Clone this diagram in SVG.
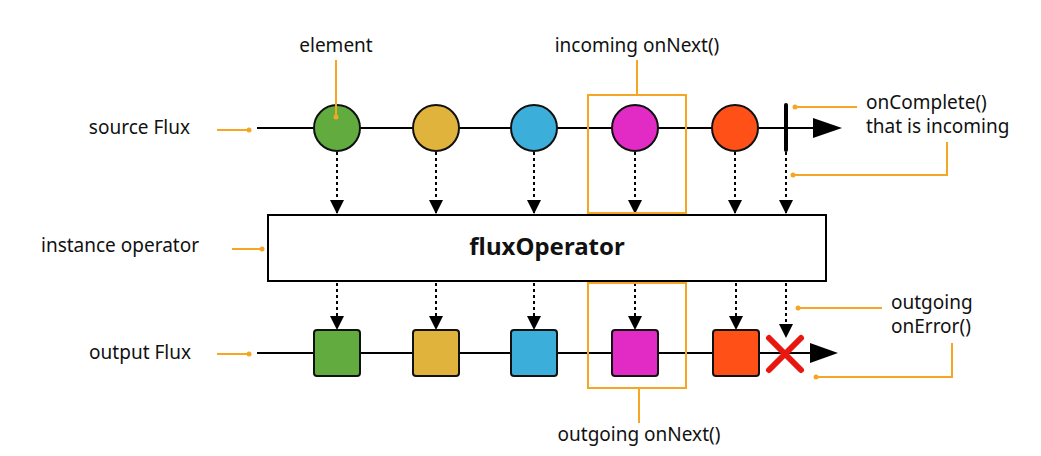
<svg xmlns="http://www.w3.org/2000/svg" width="1041" height="456" viewBox="0 0 1041 456">
<style>
.t{font-family:"Noto Sans","Liberation Sans",sans-serif;font-size:19px;fill:#111}
.line{stroke:#000;stroke-width:2;fill:none}
.dash{stroke:#000;stroke-width:2;stroke-dasharray:3 3;fill:none}
.ann{stroke:#F5A623;stroke-width:2;fill:none}
.dot{fill:#F5A623}
.el{stroke:#111;stroke-width:2}
</style>
<defs>
<marker id="ah" markerWidth="14" markerHeight="16" refX="13" refY="8" orient="auto" markerUnits="userSpaceOnUse">
<path d="M0,1 L14,8 L0,15 Z" fill="#000"/>
</marker>
</defs>
<rect width="1041" height="456" fill="#fff"/>

<g id="timelines">
<line class="line" x1="257" y1="128" x2="815" y2="128"/>
<path d="M813,118 L842,128 L813,138 Z" fill="#000"/>
<line class="line" x1="257" y1="353" x2="812" y2="353"/>
<path d="M810,343 L838,353 L810,363 Z" fill="#000"/>
</g>

<g id="connectors">
<line class="dash" x1="337" y1="152" x2="337" y2="213" marker-end="url(#ah)"/>
<line class="dash" x1="436" y1="152" x2="436" y2="213" marker-end="url(#ah)"/>
<line class="dash" x1="534" y1="152" x2="534" y2="213" marker-end="url(#ah)"/>
<line class="dash" x1="635" y1="152" x2="635" y2="213" marker-end="url(#ah)"/>
<line class="dash" x1="735" y1="152" x2="735" y2="213" marker-end="url(#ah)"/>
<line class="dash" x1="786" y1="152" x2="786" y2="213" marker-end="url(#ah)"/>
<line class="dash" x1="337" y1="283" x2="337" y2="329" marker-end="url(#ah)"/>
<line class="dash" x1="436" y1="283" x2="436" y2="329" marker-end="url(#ah)"/>
<line class="dash" x1="534" y1="283" x2="534" y2="329" marker-end="url(#ah)"/>
<line class="dash" x1="635" y1="283" x2="635" y2="329" marker-end="url(#ah)"/>
<line class="dash" x1="736" y1="283" x2="736" y2="329" marker-end="url(#ah)"/>
<line class="dash" x1="786" y1="283" x2="786" y2="337" marker-end="url(#ah)"/>
</g>

<g id="source-elements">
<circle class="el" cx="337" cy="128" r="23" fill="#62AC3F"/>
<circle class="el" cx="436" cy="128" r="23" fill="#E0B43C"/>
<circle class="el" cx="534" cy="128" r="23" fill="#3BAFD9"/>
<circle class="el" cx="635" cy="128" r="23" fill="#E22AC5"/>
<circle class="el" cx="735" cy="128" r="23" fill="#FF5117"/>
<line x1="786" y1="105" x2="786" y2="150" stroke="#000" stroke-width="4" stroke-linecap="round"/>
</g>

<g id="operator">
<rect x="268" y="215" width="558" height="66" fill="#fff" stroke="#000" stroke-width="2"/>
<text x="547" y="255" text-anchor="middle" font-family="'Noto Sans','Liberation Sans',sans-serif" font-weight="bold" font-size="24" fill="#111">fluxOperator</text>
</g>

<g id="output-elements">
<rect class="el" x="314" y="330" width="46" height="46" rx="3" fill="#62AC3F"/>
<rect class="el" x="413" y="330" width="46" height="46" rx="3" fill="#E0B43C"/>
<rect class="el" x="511" y="330" width="46" height="46" rx="3" fill="#3BAFD9"/>
<rect class="el" x="612" y="330" width="46" height="46" rx="3" fill="#E22AC5"/>
<rect class="el" x="713" y="330" width="46" height="46" rx="3" fill="#FF5117"/>
<g stroke="#E8170F" stroke-width="6" stroke-linecap="round">
<line x1="769" y1="338" x2="801" y2="370"/>
<line x1="801" y1="338" x2="769" y2="370"/>
</g>
</g>

<g id="annotations">
<line class="ann" x1="217" y1="130" x2="248" y2="130"/><circle class="dot" cx="249" cy="130" r="2.5"/>
<line class="ann" x1="232" y1="249" x2="261" y2="249"/><circle class="dot" cx="262" cy="249" r="2.5"/>
<line class="ann" x1="217" y1="354" x2="248" y2="354"/><circle class="dot" cx="249" cy="354" r="2.5"/>
<line class="ann" x1="336" y1="60" x2="336" y2="116"/><circle class="dot" cx="336" cy="117" r="2.5"/>
<rect class="ann" x="588" y="95" width="98" height="118"/>
<line class="ann" x1="637" y1="60" x2="637" y2="95"/>
<rect class="ann" x="588" y="283" width="98" height="105"/>
<line class="ann" x1="639" y1="388" x2="639" y2="423"/>
<line class="ann" x1="857" y1="107" x2="796" y2="107"/><circle class="dot" cx="795" cy="107" r="2.5"/>
<polyline class="ann" points="947,142 947,175 794,175"/><circle class="dot" cx="793" cy="175" r="2.5"/>
<line class="ann" x1="882" y1="308" x2="799" y2="308"/><circle class="dot" cx="798" cy="308" r="2.5"/>
<polyline class="ann" points="952,343 952,377 817,377"/><circle class="dot" cx="816" cy="377" r="2.5"/>
</g>

<g id="labels">
<text class="t" x="190" y="134" text-anchor="end">source Flux</text>
<text class="t" x="199" y="252" text-anchor="end">instance operator</text>
<text class="t" x="191" y="359" text-anchor="end">output Flux</text>
<text class="t" x="336" y="52" text-anchor="middle">element</text>
<text class="t" x="637" y="52" text-anchor="middle">incoming onNext()</text>
<text class="t" x="639" y="441" text-anchor="middle">outgoing onNext()</text>
<text class="t" x="866" y="109">onComplete()</text>
<text class="t" x="866" y="133">that is incoming</text>
<text class="t" x="891" y="309">outgoing</text>
<text class="t" x="891" y="333">onError()</text>
</g>
</svg>
